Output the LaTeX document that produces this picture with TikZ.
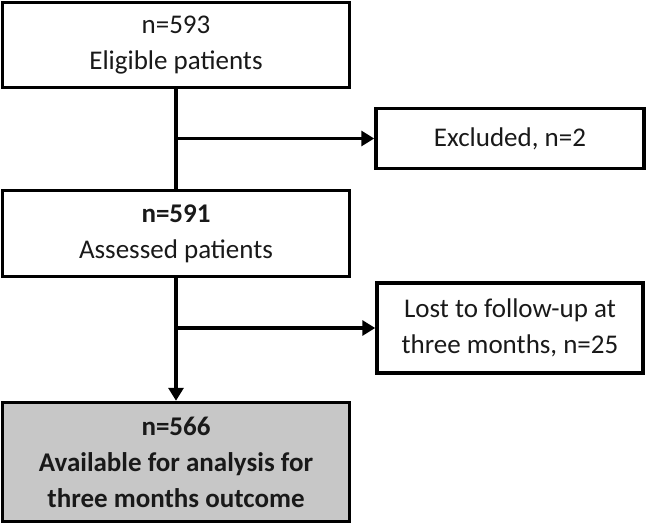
\documentclass[tikz,border=0pt]{standalone}
\usepackage{fontspec}
\setmainfont{Carlito}
\usetikzlibrary{arrows.meta}
\begin{document}
\begin{tikzpicture}[x=1pt,y=-1pt,
  box/.style={draw=black,line width=3.5pt,rectangle,align=center,inner sep=0pt,
    font=\fontsize{27}{36}\selectfont,text=black!90},
  conn/.style={line width=3.5pt},
  arr/.style={line width=3.5pt,-{Triangle[length=13pt,width=15pt]}}]
\useasboundingbox (0,0) rectangle (646,525);
\node[box,minimum width=347pt,minimum height=85pt] (b1) at (176,45) {n=593\\Eligible patients};
\node[box,minimum width=347pt,minimum height=86pt] (b2) at (176,233.5) {\textbf{n=591}\\Assessed patients};
\node[box,minimum width=347pt,minimum height=119pt,fill=black!22] (b3) at (176,462) {\bfseries n=566\\\bfseries Available for analysis for\\\bfseries three months outcome};
\node[box,minimum width=268pt,minimum height=60pt] (exc) at (510,138.5) {Excluded, n=2};
\node[box,minimum width=266pt,minimum height=90pt] (lost) at (510,328) {Lost to follow-up at\\three months, n=25};
\draw[conn] (b1.south) -- (b2.north);
\draw[arr] (b1.south |- exc.west) -- (exc.west);
\draw[arr] (b2.south) -- (b3.north);
\draw[arr] (b2.south |- lost.west) -- (lost.west);
\end{tikzpicture}
\end{document}
